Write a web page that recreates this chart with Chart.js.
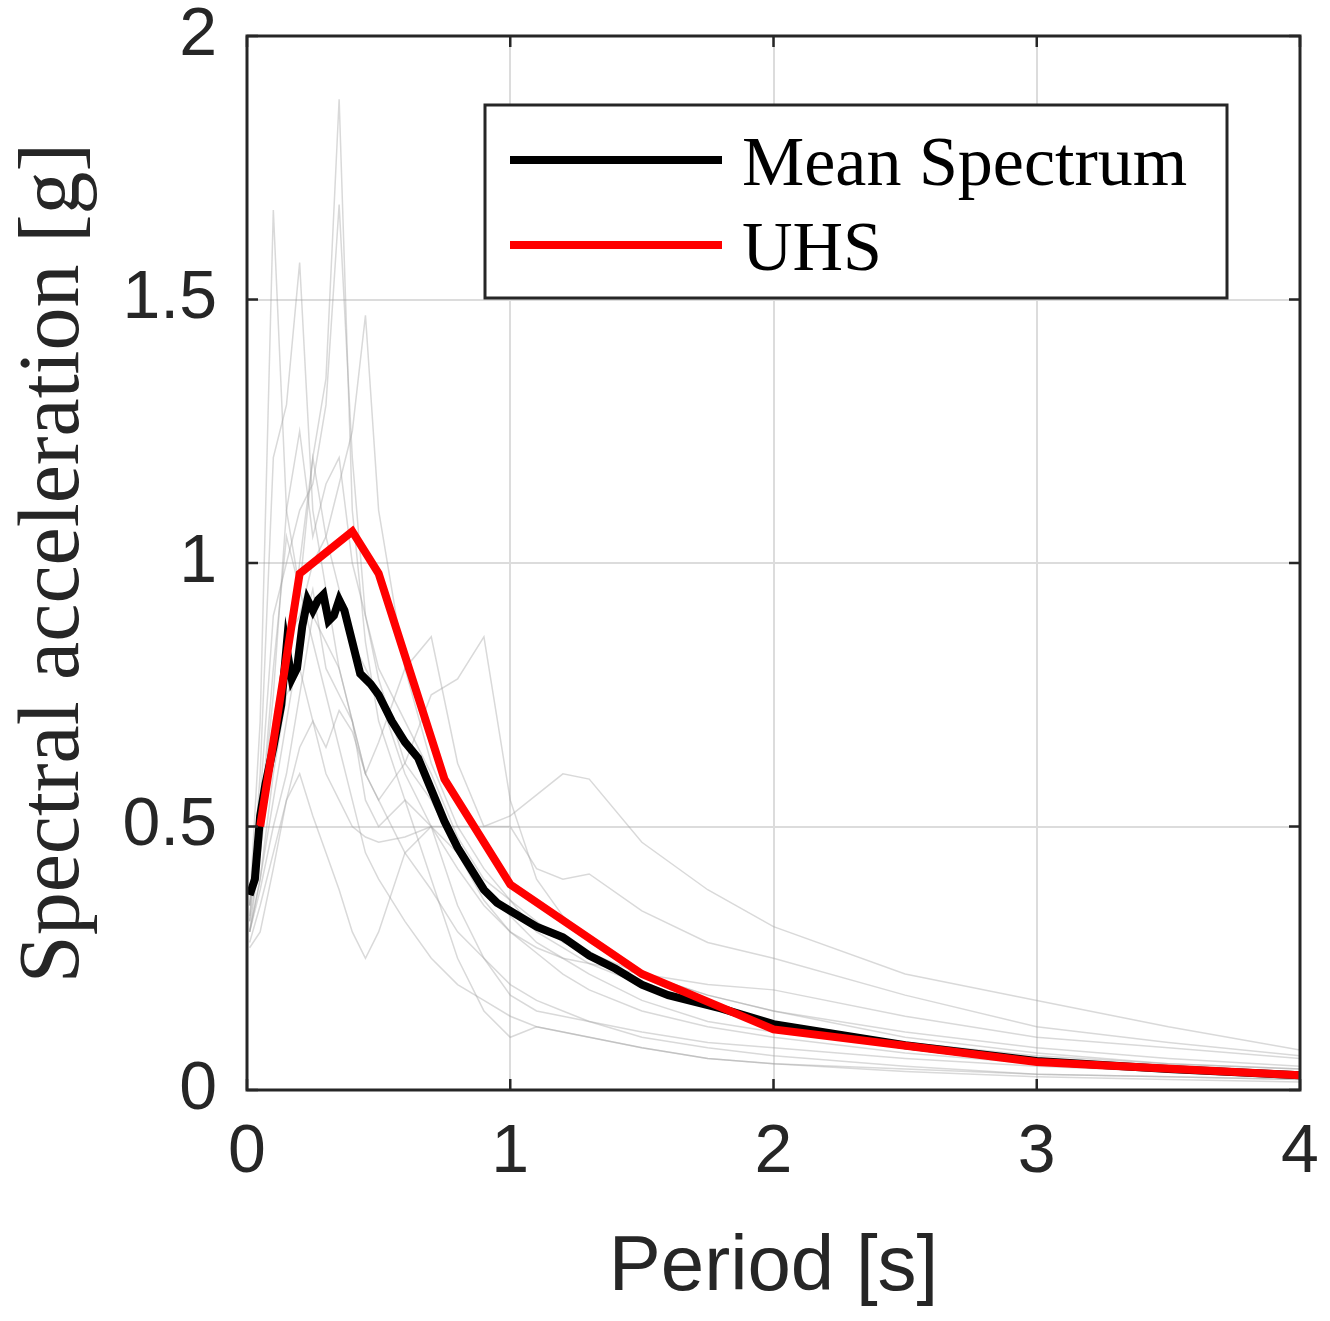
<!DOCTYPE html>
<html lang="en">
<head>
  <meta charset="UTF-8">
  <title>Spectral acceleration</title>
  <style>
    body { margin: 0; background: #ffffff; }
    #wrap { width: 1330px; height: 1321px; }
  </style>
  <script src="https://cdn.jsdelivr.net/npm/chart.js"></script>
</head>
<body>
  <div id="wrap"><canvas id="chart"></canvas></div>
  <script>
    // periods shared by the individual record spectra (s)
    const recordPeriods = [0.01, 0.05, 0.1, 0.15, 0.2, 0.25, 0.3, 0.35, 0.4, 0.45, 0.5, 0.6, 0.7, 0.8, 0.9, 1.0, 1.1, 1.2, 1.3, 1.5, 1.75, 2.0, 2.5, 3.0, 3.5, 4.0];
    // individual ground motion spectra (g)
    const records = [
      [0.33, 0.50, 0.80, 1.05, 0.95, 1.20, 1.35, 1.88, 1.10, 0.85, 0.70, 0.55, 0.50, 0.42, 0.35, 0.30, 0.26, 0.22, 0.19, 0.15, 0.12, 0.10, 0.07, 0.05, 0.035, 0.025],
      [0.35, 0.55, 0.90, 1.00, 1.10, 1.15, 1.30, 1.68, 1.20, 0.90, 0.78, 0.62, 0.55, 0.45, 0.38, 0.33, 0.28, 0.25, 0.22, 0.17, 0.13, 0.11, 0.08, 0.055, 0.04, 0.03],
      [0.30, 0.45, 0.70, 0.85, 0.90, 1.00, 1.05, 1.15, 1.25, 1.47, 1.10, 0.80, 0.62, 0.50, 0.42, 0.36, 0.30, 0.27, 0.24, 0.20, 0.16, 0.13, 0.09, 0.065, 0.05, 0.04],
      [0.35, 0.70, 1.67, 1.10, 0.95, 0.85, 0.75, 0.65, 0.55, 0.45, 0.40, 0.32, 0.25, 0.20, 0.17, 0.14, 0.12, 0.11, 0.10, 0.08, 0.06, 0.05, 0.035, 0.025, 0.02, 0.015],
      [0.32, 0.60, 1.20, 1.30, 1.57, 1.10, 0.95, 0.80, 0.70, 0.60, 0.55, 0.45, 0.38, 0.30, 0.25, 0.20, 0.17, 0.15, 0.13, 0.10, 0.08, 0.065, 0.045, 0.03, 0.025, 0.02],
      [0.30, 0.40, 0.55, 0.70, 0.85, 0.95, 0.80, 0.75, 0.70, 0.60, 0.55, 0.62, 0.75, 0.78, 0.86, 0.55, 0.40, 0.33, 0.28, 0.22, 0.18, 0.15, 0.10, 0.07, 0.05, 0.04],
      [0.28, 0.35, 0.45, 0.55, 0.65, 0.70, 0.60, 0.55, 0.50, 0.48, 0.47, 0.48, 0.50, 0.50, 0.50, 0.52, 0.56, 0.60, 0.59, 0.47, 0.38, 0.31, 0.22, 0.17, 0.12, 0.076],
      [0.30, 0.40, 0.60, 0.75, 0.80, 0.70, 0.65, 0.72, 0.68, 0.60, 0.66, 0.80, 0.86, 0.62, 0.50, 0.50, 0.42, 0.40, 0.41, 0.34, 0.28, 0.25, 0.18, 0.12, 0.09, 0.065],
      [0.27, 0.30, 0.42, 0.55, 0.60, 0.52, 0.45, 0.38, 0.30, 0.25, 0.30, 0.45, 0.50, 0.45, 0.36, 0.30, 0.27, 0.25, 0.24, 0.22, 0.20, 0.19, 0.14, 0.10, 0.08, 0.06],
      [0.30, 0.38, 0.50, 0.60, 0.75, 0.90, 0.85, 0.80, 0.70, 0.55, 0.50, 0.55, 0.40, 0.25, 0.15, 0.10, 0.12, 0.11, 0.10, 0.08, 0.06, 0.05, 0.04, 0.03, 0.025, 0.02],
      [0.32, 0.45, 0.65, 0.80, 1.00, 1.20, 1.05, 0.95, 0.85, 0.80, 0.75, 0.60, 0.50, 0.35, 0.25, 0.18, 0.15, 0.14, 0.13, 0.11, 0.09, 0.08, 0.06, 0.045, 0.035, 0.03],
      [0.35, 0.50, 0.75, 1.10, 1.25, 1.05, 1.15, 1.20, 1.00, 0.90, 0.80, 0.70, 0.60, 0.48, 0.40, 0.36, 0.32, 0.28, 0.26, 0.22, 0.18, 0.15, 0.11, 0.08, 0.06, 0.045]
    ];

    // mean spectrum
    const meanPeriods = [0.01, 0.03, 0.05, 0.07, 0.1, 0.13, 0.15, 0.17, 0.19, 0.21, 0.23, 0.25, 0.27, 0.29, 0.31, 0.33, 0.35, 0.37, 0.4, 0.43, 0.47, 0.5, 0.55, 0.6, 0.65, 0.7, 0.75, 0.8, 0.85, 0.9, 0.95, 1.0, 1.1, 1.2, 1.3, 1.4, 1.5, 1.6, 1.8, 2.0, 2.5, 3.0, 3.5, 4.0];
    const meanSa = [0.37, 0.40, 0.52, 0.58, 0.65, 0.73, 0.84, 0.78, 0.80, 0.88, 0.93, 0.91, 0.93, 0.94, 0.89, 0.90, 0.93, 0.91, 0.85, 0.79, 0.77, 0.75, 0.70, 0.66, 0.63, 0.57, 0.51, 0.46, 0.42, 0.38, 0.355, 0.34, 0.31, 0.29, 0.255, 0.23, 0.20, 0.18, 0.155, 0.125, 0.085, 0.055, 0.04, 0.028];

    // uniform hazard spectrum
    const uhsPeriods = [0.05, 0.2, 0.4, 0.5, 0.75, 1.0, 1.5, 2.0, 3.0, 4.0];
    const uhsSa = [0.50, 0.98, 1.06, 0.98, 0.59, 0.39, 0.22, 0.115, 0.053, 0.028];

    const xTicks = [0, 1, 2, 3, 4];
    const yTicks = [0, 0.5, 1, 1.5, 2];

    const toPoints = (xs, ys) => xs.map((x, i) => ({ x: x, y: ys[i] }));

    const datasets = records.map((r, i) => ({
      label: 'Record ' + (i + 1),
      data: toPoints(recordPeriods, r),
      borderColor: 'rgba(160,160,160,0.4)',
      borderWidth: 1.5,
      pointRadius: 0,
      showLine: true,
      order: 3
    }));
    datasets.push({
      label: 'Mean Spectrum',
      data: toPoints(meanPeriods, meanSa),
      borderColor: '#000000',
      borderWidth: 8,
      pointRadius: 0,
      showLine: true,
      order: 1
    });
    datasets.push({
      label: 'UHS',
      data: toPoints(uhsPeriods, uhsSa),
      borderColor: '#ff0000',
      borderWidth: 8,
      pointRadius: 0,
      showLine: true,
      order: 0
    });

    // box around the axes, inward ticks and the boxed legend (MATLAB look)
    const boxPlugin = {
      id: 'box',
      afterDraw(chart) {
        const { ctx, chartArea: a, scales } = chart;
        ctx.save();
        ctx.strokeStyle = '#262626';
        ctx.lineWidth = 3;
        ctx.strokeRect(a.left, a.top, a.right - a.left, a.bottom - a.top);
        ctx.lineWidth = 2.5;
        ctx.beginPath();
        xTicks.forEach(v => {
          const px = scales.x.getPixelForValue(v);
          ctx.moveTo(px, a.bottom); ctx.lineTo(px, a.bottom - 11);
          ctx.moveTo(px, a.top); ctx.lineTo(px, a.top + 11);
        });
        yTicks.forEach(v => {
          const py = scales.y.getPixelForValue(v);
          ctx.moveTo(a.left, py); ctx.lineTo(a.left + 11, py);
          ctx.moveTo(a.right, py); ctx.lineTo(a.right - 11, py);
        });
        ctx.stroke();

        // legend
        const lx = a.left + 238, ly = a.top + 69, lw = 742, lh = 193;
        ctx.fillStyle = '#ffffff';
        ctx.fillRect(lx, ly, lw, lh);
        ctx.strokeStyle = '#262626';
        ctx.lineWidth = 3;
        ctx.strokeRect(lx, ly, lw, lh);
        const items = [
          { text: 'Mean Spectrum', color: '#000000', y: ly + 55 },
          { text: 'UHS', color: '#ff0000', y: ly + 140 }
        ];
        ctx.font = '70px "Liberation Serif", "Times New Roman", serif';
        ctx.textBaseline = 'middle';
        items.forEach(it => {
          ctx.strokeStyle = it.color;
          ctx.lineWidth = 8;
          ctx.beginPath();
          ctx.moveTo(lx + 25, it.y);
          ctx.lineTo(lx + 237, it.y);
          ctx.stroke();
          ctx.fillStyle = '#000000';
          ctx.fillText(it.text, lx + 257, it.y + 7);
        });
        ctx.restore();
      }
    };

    new Chart(document.getElementById('chart'), {
      type: 'scatter',
      data: { datasets: datasets },
      plugins: [boxPlugin],
      options: {
        responsive: true,
        maintainAspectRatio: false,
        animation: false,
        layout: { padding: { top: 36, right: 30, left: 0, bottom: 0 } },
        plugins: {
          legend: { display: false },
          tooltip: { enabled: false }
        },
        scales: {
          x: {
            type: 'linear',
            min: 0,
            max: 4,
            afterFit(scale) {
              scale.height = 231;
              scale.paddingLeft = 0;
              scale.paddingRight = 0;
            },
            afterBuildTicks(scale) { scale.ticks = xTicks.map(v => ({ value: v })); },
            grid: { color: '#dcdcdc', lineWidth: 2, drawTicks: false },
            border: { display: false },
            ticks: {
              padding: 22,
              color: '#262626',
              callback: v => String(v),
              font: { family: '"Liberation Sans", Arial, sans-serif', size: 68 }
            },
            title: {
              display: true,
              text: 'Period [s]',
              color: '#262626',
              font: { family: '"Liberation Sans", Arial, sans-serif', size: 78 },
              padding: { top: 0, bottom: 6 }
            }
          },
          y: {
            type: 'linear',
            min: 0,
            max: 2,
            afterFit(scale) {
              scale.width = 247;
              scale.paddingTop = 0;
              scale.paddingBottom = 0;
            },
            afterBuildTicks(scale) { scale.ticks = yTicks.map(v => ({ value: v })); },
            grid: { color: '#dcdcdc', lineWidth: 2, drawTicks: false },
            border: { display: false },
            ticks: {
              padding: 30,
              color: '#262626',
              callback: v => String(v),
              font: { family: '"Liberation Sans", Arial, sans-serif', size: 68 }
            },
            title: {
              display: true,
              text: 'Spectral acceleration [g]',
              color: '#262626',
              font: { family: '"Liberation Serif", "Times New Roman", serif', size: 86 },
              padding: { top: 4, bottom: 0 }
            }
          }
        }
      }
    });
  </script>
</body>
</html>
